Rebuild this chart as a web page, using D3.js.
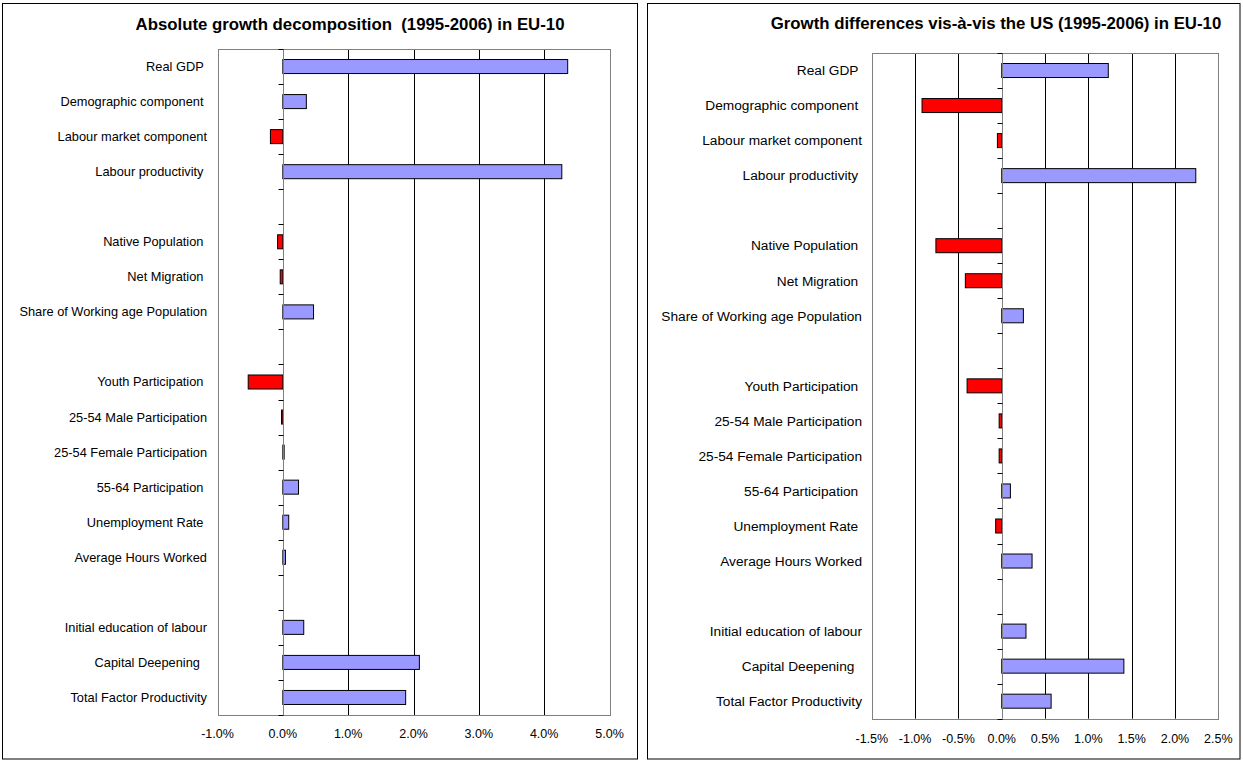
<!DOCTYPE html>
<html>
<head>
<meta charset="utf-8">
<script src="https://cdn.jsdelivr.net/npm/d3@7"></script>
<style>
  html, body { margin: 0; padding: 0; background: #fff; }
  svg { display: block; }
  text { font-family: "Liberation Sans", Arial, sans-serif; fill: #000; white-space: pre; }
</style>
</head>
<body>
<svg id="chart" width="1243" height="762"></svg>
<script>
// ---------- data ----------
const categories = [
  "Real GDP ", "Demographic component ", "Labour market component", "Labour productivity ",
  "",
  "Native Population ", "Net Migration ", "Share of Working age Population",
  "",
  "Youth Participation ", "25-54 Male Participation", "25-54 Female Participation", "55-64 Participation ",
  "Unemployment Rate ", "Average Hours Worked",
  "",
  "Initial education of labour", "Capital Deepening  ", "Total Factor Productivity"
];
// Absolute growth decomposition (% per year), null = empty slot
const absoluteValues = [
  4.36, 0.36, -0.19, 4.27,
  null,
  -0.08, -0.04, 0.47,
  null,
  -0.53, -0.02, 0.02, 0.24, 0.09, 0.04,
  null,
  0.32, 2.09, 1.88
];
// Growth differences vs the US (percentage points)
const differenceValues = [
  1.23, -0.92, -0.05, 2.24,
  null,
  -0.76, -0.42, 0.25,
  null,
  -0.40, -0.03, -0.03, 0.10, -0.07, 0.35,
  null,
  0.28, 1.41, 0.57
];
const absoluteTicks = [-1, 0, 1, 2, 3, 4, 5];
const differenceTicks = [-1.5, -1, -0.5, 0, 0.5, 1, 1.5, 2, 2.5];
const titles = [
  "Absolute growth decomposition  (1995-2006) in EU-10",
  "Growth differences vis-à-vis the US (1995-2006) in EU-10"
];

// ---------- layout ----------
const svg = d3.select("#chart");
const POS = "#9999FF", NEG = "#FF0000";
const locale = d3.formatLocale({ decimal: ".", thousands: ",", grouping: [3], currency: ["", ""], minus: "-" });
const fmt = locale.format(".1%");

const panels = [
  { frame: [2.5, 3.5, 635, 755.5], plot: { x0: 217.5, x1: 609.5, y0: 49, y1: 715 },
    values: absoluteValues, ticks: absoluteTicks, title: titles[0], titleX: 350, titleY: 30,
    catFont: 12.8, labelRight: 207, tickY: 738 },
  { frame: [647.5, 3.5, 592.5, 755.5], plot: { x0: 871.8, x1: 1218.3, y0: 53, y1: 718.7 },
    values: differenceValues, ticks: differenceTicks, title: titles[1], titleX: 996, titleY: 29,
    catFont: 13.7, labelRight: 862, tickY: 743 }
];

panels.forEach(p => {
  const g = svg.append("g");
  g.append("rect")
    .attr("x", p.frame[0]).attr("y", p.frame[1])
    .attr("width", p.frame[2]).attr("height", p.frame[3])
    .attr("fill", "#fff").attr("stroke", "#000").attr("stroke-width", 1);

  g.append("text")
    .attr("x", p.titleX).attr("y", p.titleY)
    .attr("text-anchor", "middle")
    .style("font-size", "16.8px").style("font-weight", "bold")
    .text(p.title);

  const x = d3.scaleLinear()
    .domain([p.ticks[0], p.ticks[p.ticks.length - 1]])
    .range([p.plot.x0, p.plot.x1]);
  const y = d3.scaleBand()
    .domain(d3.range(categories.length))
    .range([p.plot.y0, p.plot.y1])
    .padding(0);
  const bw = y.bandwidth();
  const barH = bw * 0.4;

  g.append("g").selectAll("line")
    .data(p.ticks.slice(1, -1).filter(t => t !== 0))
    .join("line")
    .attr("x1", d => Math.round(x(d)) + 0.5).attr("x2", d => Math.round(x(d)) + 0.5)
    .attr("y1", p.plot.y0).attr("y2", p.plot.y1)
    .attr("stroke", "#000").attr("stroke-width", 1);

  g.append("rect")
    .attr("x", Math.round(p.plot.x0) + 0.5).attr("y", Math.round(p.plot.y0) + 0.5)
    .attr("width", Math.round(p.plot.x1) - Math.round(p.plot.x0))
    .attr("height", Math.round(p.plot.y1) - Math.round(p.plot.y0))
    .attr("fill", "none").attr("stroke", "#808080").attr("stroke-width", 1);

  const rows = categories.map((c, i) => ({ i, v: p.values[i] })).filter(d => d.v !== null);
  g.append("g").selectAll("rect")
    .data(rows)
    .join("rect")
    .attr("x", d => Math.min(x(0), x(d.v)))
    .attr("y", d => y(d.i) + (bw - barH) / 2)
    .attr("width", d => Math.max(Math.abs(x(d.v) - x(0)), 1))
    .attr("height", barH)
    .attr("fill", d => d.v < 0 ? NEG : POS)
    .attr("stroke", "#000").attr("stroke-width", 1);

  const zx = Math.round(x(0)) + 0.5;
  g.append("line")
    .attr("x1", zx).attr("x2", zx)
    .attr("y1", p.plot.y0).attr("y2", p.plot.y1)
    .attr("stroke", "#808080").attr("stroke-width", 1);
  const bounds = d3.range(categories.length + 1).map(i => p.plot.y0 + i * bw);
  g.append("g").selectAll("line")
    .data(bounds)
    .join("line")
    .attr("x1", zx - 5).attr("x2", zx)
    .attr("y1", d => Math.round(d) + 0.5).attr("y2", d => Math.round(d) + 0.5)
    .attr("stroke", "#000").attr("stroke-width", 1);

  g.append("g").selectAll("text")
    .data(categories.map((c, i) => ({ c, i })).filter(d => d.c !== ""))
    .join("text")
    .attr("x", p.labelRight)
    .attr("y", d => y(d.i) + bw / 2)
    .attr("dy", "0.35em")
    .attr("text-anchor", "end")
    .style("font-size", p.catFont + "px")
    .text(d => d.c);

  g.append("g").selectAll("text")
    .data(p.ticks)
    .join("text")
    .attr("x", d => x(d))
    .attr("y", p.tickY)
    .attr("text-anchor", "middle")
    .style("font-size", "12.5px")
    .text(d => fmt(d / 100));
});
</script>
</body>
</html>
